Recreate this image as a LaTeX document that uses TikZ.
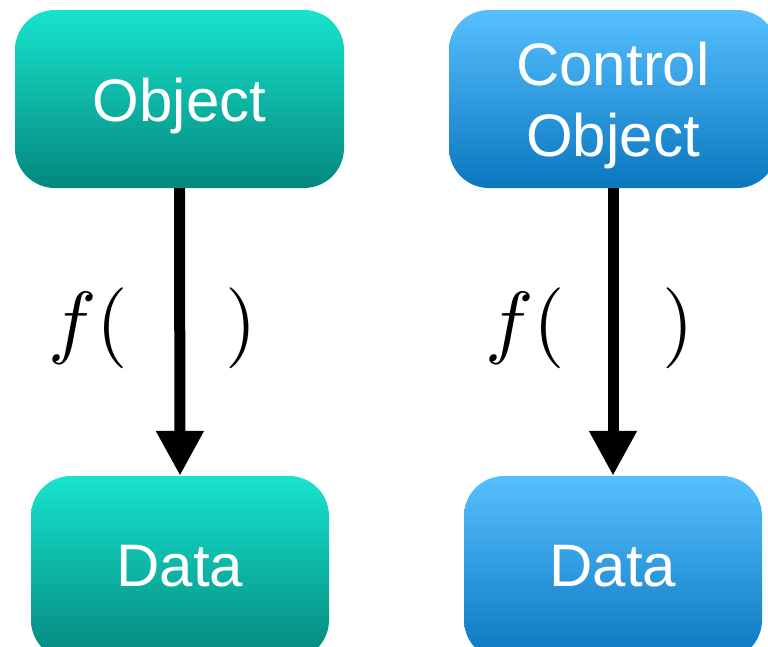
\documentclass[tikz,border=0pt]{standalone}
\usepackage{fontspec}
\setmainfont{Liberation Sans}
\usetikzlibrary{arrows.meta,calc}

\definecolor{tealtop}{HTML}{17E4CD}
\definecolor{tealbot}{HTML}{04877E}
\definecolor{bluetop}{HTML}{56C0FF}
\definecolor{bluebot}{HTML}{0A76BE}

\tikzset{
  box/.style={rounded corners=40pt, inner sep=0pt, align=center,
    text=white, font=\fontsize{60}{71}\selectfont, text height=44pt, text depth=0pt},
  tealbox/.style={box, top color=tealtop, bottom color=tealbot},
  bluebox/.style={box, top color=bluetop, bottom color=bluebot},
  flow/.style={line width=11pt, -{Triangle[width=45pt,length=45pt]}},
  fn/.style={anchor=base west, inner sep=0pt}
}
% function label f(   ) at 81pt
\newcommand{\fnlabel}{\scalebox{8.1}{$f(\hspace{12.1pt})$}}

\begin{document}
\begin{tikzpicture}[x=1pt,y=-1pt]
  \useasboundingbox (0,0) rectangle (768,646);
  \begin{scope}
    \clip (0,0) rectangle (768,646);
    % top row
    \node[tealbox, minimum width=329pt, minimum height=178pt] (obj) at (179.5,99) {Object};
    \node[bluebox, minimum width=328pt, minimum height=178pt, text height=115pt] (cobj) at (613,99) {Control\\Object};
    % bottom row
    \node[tealbox, minimum width=298pt, minimum height=184pt, text depth=8pt] (dl) at (180,568) {Data};
    \node[bluebox, minimum width=298pt, minimum height=184pt, text depth=8pt] (dr) at (613,568) {Data};
    % mappings
    \draw[flow] (obj.south) -- (dl.north);
    \draw[flow] (cobj.south) -- (dr.north);
    % function labels
    \node[fn] (fl) at (48,348) {\fnlabel};
    \node[fn] (fr) at (485,348) {\fnlabel};
  \end{scope}
\end{tikzpicture}
\end{document}
